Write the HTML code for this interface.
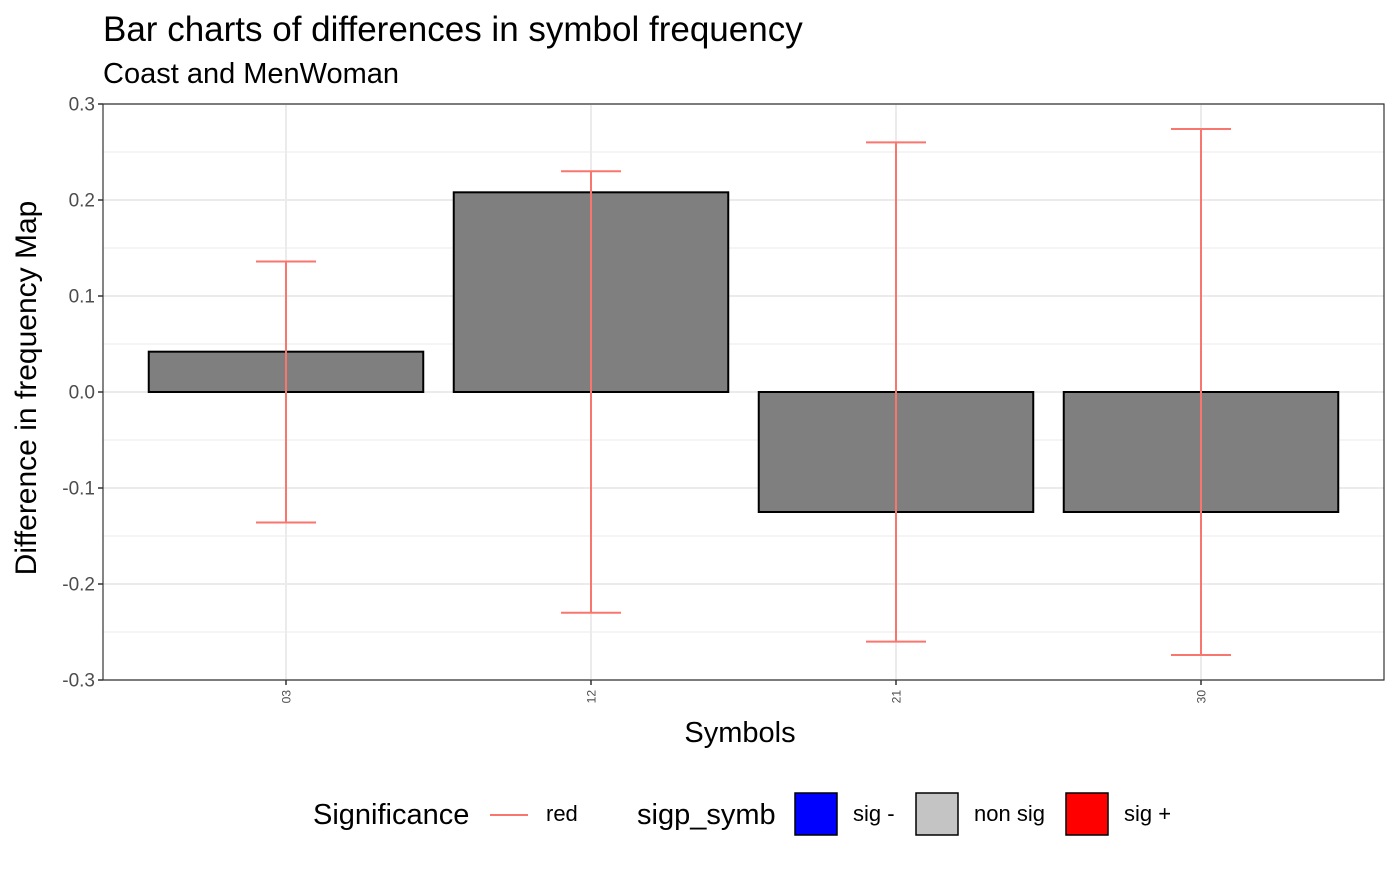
<!DOCTYPE html>
<html><head><meta charset="utf-8"><style>
body{margin:0;background:#fff;font-family:"Liberation Sans",sans-serif}
</style></head><body>
<svg id="chart" width="1400" height="866" xmlns="http://www.w3.org/2000/svg" font-family="Liberation Sans, sans-serif">
<text x="103" y="41" font-size="35" fill="#000">Bar charts of differences in symbol frequency</text>
<text x="103" y="83" font-size="29" fill="#000">Coast and MenWoman</text>
<g id="grid"></g>
<g id="bars"></g>
<g id="errs"></g>
<rect x="103" y="104" width="1281" height="576" fill="none" stroke="#333" stroke-width="1.2"/>
<g id="yticks"></g>
<g id="xticks"></g>
<text x="740" y="742" font-size="29" text-anchor="middle">Symbols</text>
<text transform="translate(36,388) rotate(-90)" font-size="30" text-anchor="middle">Difference in frequency Map</text>
<g>
<text x="313" y="824" font-size="29">Significance</text>
<line x1="490" y1="815" x2="528" y2="815" stroke="#F8766D" stroke-width="2"/>
<text x="546" y="821" font-size="22">red</text>
<text x="637" y="824" font-size="29">sigp_symb</text>
<rect x="795" y="793" width="42" height="42" fill="#0000FF" stroke="#000" stroke-width="1.5"/>
<text x="853" y="821" font-size="22">sig -</text>
<rect x="916" y="793" width="42" height="42" fill="#C4C4C4" stroke="#000" stroke-width="1.5"/>
<text x="974" y="821" font-size="22">non sig</text>
<rect x="1066" y="793" width="42" height="42" fill="#FF0000" stroke="#000" stroke-width="1.5"/>
<text x="1124" y="821" font-size="22">sig +</text>
</g>
</svg>
<script>
const categories=["03","12","21","30"];
const values=[0.042,0.208,-0.125,-0.125];
const errors=[0.136,0.230,0.260,0.274];
const yTicks=[-0.3,-0.2,-0.1,0.0,0.1,0.2,0.3];
const yTickLabels=["-0.3","-0.2","-0.1","0.0","0.1","0.2","0.3"];
const NS="http://www.w3.org/2000/svg";
const L=103,R=1384,T=104,B=680,ymin=-0.3,ymax=0.3;
const y=v=>B-(v-ymin)/(ymax-ymin)*(B-T);
const step=(R-L)/(categories.length-1+1.2);
const x=i=>L+step*(i+0.6);
const bw=step*0.9;
function mk(tag,attrs,parent){const e=document.createElementNS(NS,tag);for(const k in attrs)e.setAttribute(k,attrs[k]);document.getElementById(parent).appendChild(e);return e;}
for(let k=0;k<yTicks.length-1;k++){
 const m=(yTicks[k]+yTicks[k+1])/2;
 const g=mk('line',{x1:L,x2:R,y1:y(m),y2:y(m),stroke:'#EBEBEB','stroke-width':1},'grid');
 
 
}
yTicks.forEach((v,k)=>{
 const g=mk('line',{x1:L,x2:R,y1:y(v),y2:y(v),stroke:'#EBEBEB','stroke-width':2},'grid');
 
 
 const t=mk('line',{x1:L-5,x2:L,y1:y(v),y2:y(v),stroke:'#333','stroke-width':1.5},'yticks');
 
 
 const tx=mk('text',{x:L-8,y:y(v)+6.5,'font-size':19,fill:'#4D4D4D','text-anchor':'end'},'yticks');
 tx.textContent=yTickLabels[k];
 
 
});
categories.forEach((c,i)=>{
 const g=mk('line',{x1:x(i),x2:x(i),y1:T,y2:B,stroke:'#EBEBEB','stroke-width':2},'grid');
 
 
 const v=values[i];
 const b=mk('rect',{x:x(i)-bw/2,y:Math.min(y(v),y(0)),width:bw,height:Math.abs(y(v)-y(0)),fill:'#7F7F7F',stroke:'#000','stroke-width':2},'bars');
 
 
 const e=errors[i],cw=30;
 const p=mk('path',{d:`M${x(i)-cw},${y(e)}H${x(i)+cw}M${x(i)},${y(e)}V${y(-e)}M${x(i)-cw},${y(-e)}H${x(i)+cw}`,stroke:'#F8766D','stroke-width':2,fill:'none'},'errs');
 
 
 const t=mk('line',{x1:x(i),x2:x(i),y1:B,y2:B+5,stroke:'#333','stroke-width':1.5},'xticks');
 
 
 const tx=mk('text',{transform:`translate(${x(i)+4.5},${B+10}) rotate(-90)`,'font-size':12,fill:'#4D4D4D','text-anchor':'end'},'xticks');
 tx.textContent=c;
 
 
});
</script>
</body></html>
